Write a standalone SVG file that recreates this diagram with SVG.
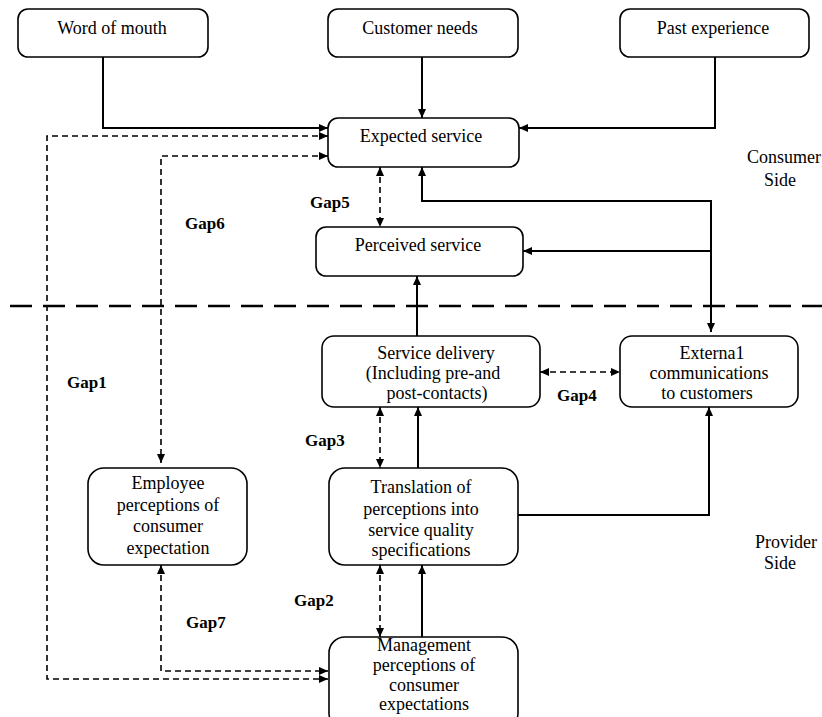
<svg xmlns="http://www.w3.org/2000/svg" width="822" height="717" viewBox="0 0 822 717">
<style>
.box{fill:#fff;stroke:#000;stroke-width:1.6}
.t{font-family:"Liberation Serif","Times New Roman",serif;font-size:18px;fill:#000;text-anchor:middle}
.g{font-family:"Liberation Serif","Times New Roman",serif;font-size:17px;font-weight:bold;fill:#000}
.s{fill:none;stroke:#000;stroke-width:2}
.d{fill:none;stroke:#000;stroke-width:1.6;stroke-dasharray:6 4}
.div{fill:none;stroke:#000;stroke-width:2.5;stroke-dasharray:22 11}
</style>
<defs>
<marker id="a" markerWidth="9" markerHeight="8" refX="9" refY="4" orient="auto-start-reverse" markerUnits="userSpaceOnUse">
<path d="M0,0 L9,4 L0,8 z" fill="#000"/>
</marker>
</defs>
<rect width="822" height="717" fill="#fff"/>
<g id="connectors">
<path class="s" d="M103,57 V128 H328" marker-end="url(#a)"/>
<path class="s" d="M422,57 V118" marker-end="url(#a)"/>
<path class="s" d="M715,57 V128 H519" marker-end="url(#a)"/>
<path class="d" d="M328,136 H47 V679 H328" marker-start="url(#a)" marker-end="url(#a)"/>
<path class="d" d="M328,156 H161 V463" marker-start="url(#a)" marker-end="url(#a)"/>
<path class="d" d="M380,167 V227" marker-start="url(#a)" marker-end="url(#a)"/>
<path class="s" d="M422,167 V201 H711 V332" marker-start="url(#a)" marker-end="url(#a)"/>
<path class="s" d="M711,251 H523" marker-end="url(#a)"/>
<path class="s" d="M417,336 V276" marker-end="url(#a)"/>
<path class="d" d="M540,372 H620" marker-start="url(#a)" marker-end="url(#a)"/>
<path class="d" d="M380,407 V468" marker-start="url(#a)" marker-end="url(#a)"/>
<path class="s" d="M418,468 V407" marker-end="url(#a)"/>
<path class="s" d="M518,515 H709 V407" marker-end="url(#a)"/>
<path class="d" d="M380,565 V637" marker-start="url(#a)" marker-end="url(#a)"/>
<path class="s" d="M422,637 V565" marker-end="url(#a)"/>
<path class="d" d="M161,565 V671 H328" marker-start="url(#a)" marker-end="url(#a)"/>
<path class="div" d="M10,306 H822"/>
</g>
<g id="word-of-mouth"><rect class="box" x="18" y="9" width="190" height="48" rx="10"/><text class="t" x="112" y="34">Word of mouth</text></g>
<g id="customer-needs"><rect class="box" x="328" y="9" width="190" height="48" rx="10"/><text class="t" x="420" y="34">Customer needs</text></g>
<g id="past-experience"><rect class="box" x="620" y="9" width="189" height="48" rx="10"/><text class="t" x="713" y="34">Past experience</text></g>
<g id="expected-service"><rect class="box" x="328" y="118" width="191" height="49" rx="10"/><text class="t" x="421" y="142">Expected service</text></g>
<g id="perceived-service"><rect class="box" x="316" y="227" width="207" height="49" rx="10"/><text class="t" x="418" y="251">Perceived service</text></g>
<g id="service-delivery"><rect class="box" x="322" y="336" width="218" height="71" rx="12"/>
<text class="t" x="436" y="359">Service delivery</text><text class="t" x="433" y="379">(Including pre-and</text><text class="t" x="437" y="399">post-contacts)</text></g>
<g id="external-communications"><rect class="box" x="620" y="336" width="178" height="71" rx="12"/>
<text class="t" x="712" y="359">Externa1</text><text class="t" x="709" y="379">communications</text><text class="t" x="707" y="399">to customers</text></g>
<g id="employee-perceptions"><rect class="box" x="88" y="468" width="159" height="97" rx="16"/>
<text class="t" x="168" y="489">Employee</text><text class="t" x="168" y="511">perceptions of</text><text class="t" x="168" y="532">consumer</text><text class="t" x="168" y="554">expectation</text></g>
<g id="translation"><rect class="box" x="329" y="468" width="189" height="97" rx="16"/>
<text class="t" x="421" y="493">Translation of</text><text class="t" x="421" y="515">perceptions into</text><text class="t" x="421" y="536">service quality</text><text class="t" x="421" y="556">specifications</text></g>
<g id="management-perceptions"><rect class="box" x="329" y="637" width="189" height="92" rx="16"/>
<text class="t" x="424" y="651">Management</text><text class="t" x="424" y="671">perceptions of</text><text class="t" x="424" y="691">consumer</text><text class="t" x="424" y="710">expectations</text></g>
<g id="labels">
<text class="g" x="310" y="208">Gap5</text>
<text class="g" x="185" y="229">Gap6</text>
<text class="g" x="67" y="388">Gap1</text>
<text class="g" x="557" y="401">Gap4</text>
<text class="g" x="305" y="446">Gap3</text>
<text class="g" x="294" y="606">Gap2</text>
<text class="g" x="186" y="628">Gap7</text>
<text class="t" x="784" y="163">Consumer</text><text class="t" x="780" y="186">Side</text>
<text class="t" x="786" y="548">Provider</text><text class="t" x="780" y="569">Side</text>
</g>
</svg>
